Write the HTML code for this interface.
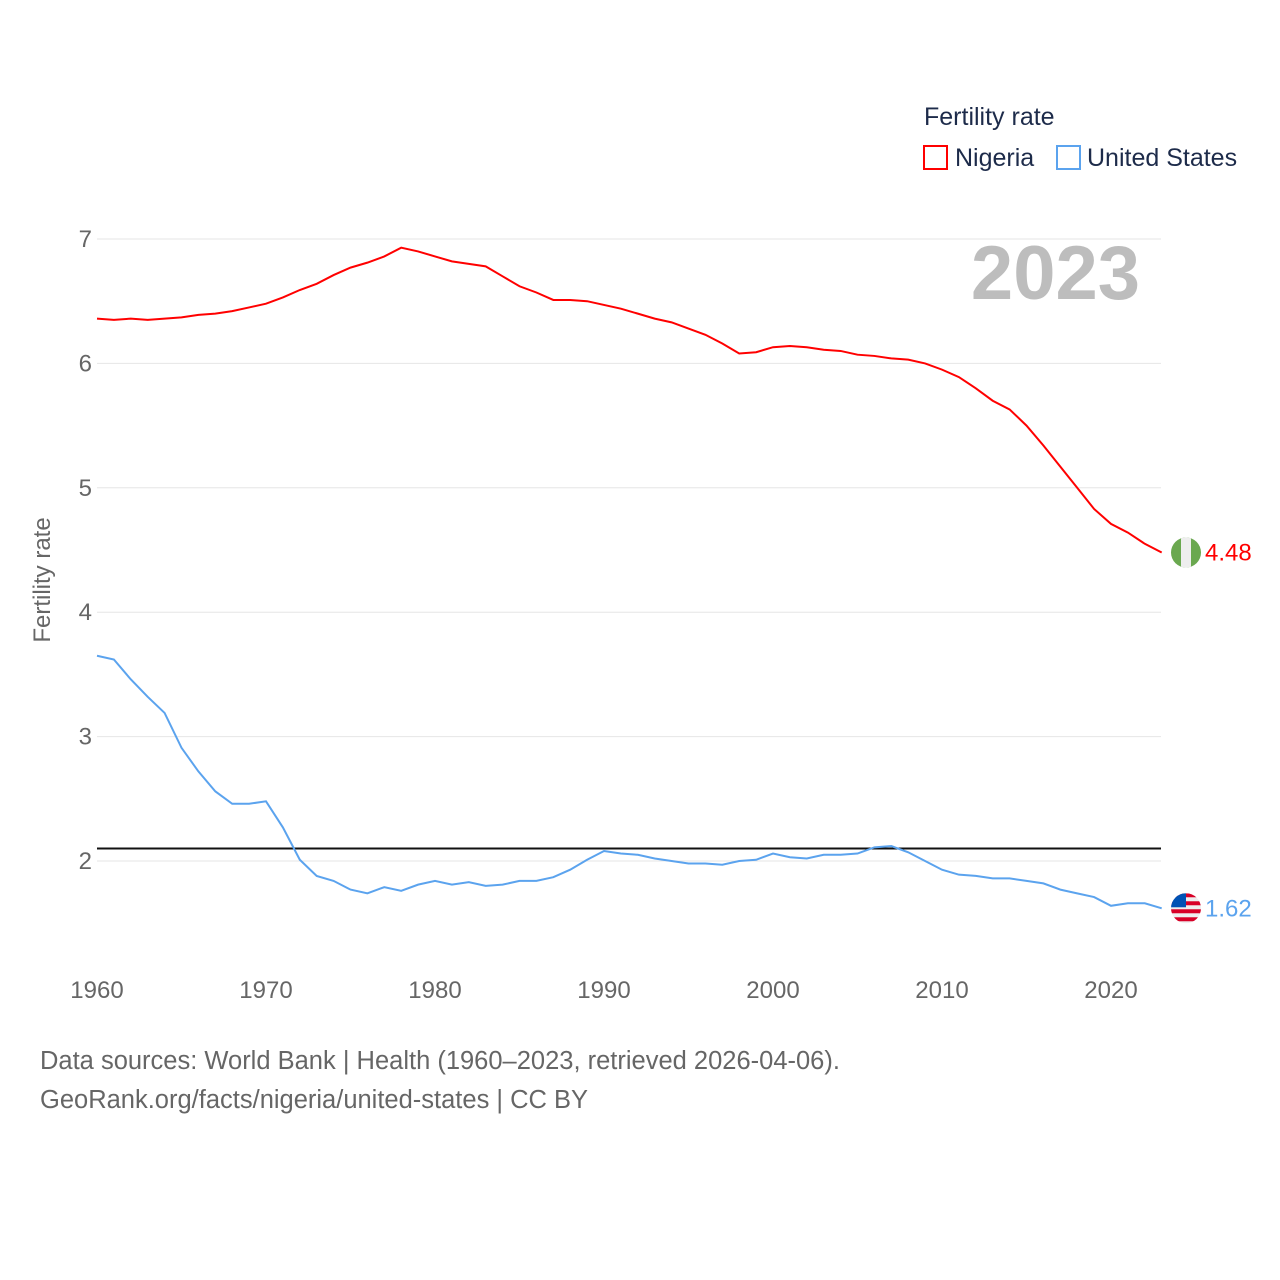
<!DOCTYPE html>
<html><head><meta charset="utf-8"><style>
body{margin:0;background:#fff;}
svg{display:block;font-family:"Liberation Sans",sans-serif;}
</style></head><body>
<svg id="chart" width="1280" height="1280">
<text x="924" y="125" font-size="25" fill="#1d2b4a">Fertility rate</text>
<g><rect x="924" y="146" width="23" height="23" fill="none" stroke="#ff0000" stroke-width="2"/><text x="955" y="166" font-size="25" fill="#1d2b4a">Nigeria</text></g>
<g><rect x="1057" y="146" width="23" height="23" fill="none" stroke="#5ba3ee" stroke-width="2"/><text x="1087" y="166" font-size="25" fill="#1d2b4a">United States</text></g>
<text x="1140" y="299" font-size="76" font-weight="bold" fill="#bdbdbd" text-anchor="end">2023</text>
<text transform="translate(50,580) rotate(-90)" font-size="24" fill="#666" text-anchor="middle">Fertility rate</text>
<g id="grid"></g><g id="series"></g>
<text x="40" y="1069" font-size="25.5" fill="#666">Data sources: World Bank | Health (1960–2023, retrieved 2026-04-06).</text>
<text x="40" y="1108" font-size="25.5" fill="#666">GeoRank.org/facts/nigeria/united-states | CC BY</text>
</svg>
<script>
const years=[];for(let y=1960;y<=2023;y++)years.push(y);
const nigeria=[6.36,6.35,6.36,6.35,6.36,6.37,6.39,6.40,6.42,6.45,6.48,6.53,6.59,6.64,6.71,6.77,6.81,6.86,6.93,6.90,6.86,6.82,6.80,6.78,6.70,6.62,6.57,6.51,6.51,6.50,6.47,6.44,6.40,6.36,6.33,6.28,6.23,6.16,6.08,6.09,6.13,6.14,6.13,6.11,6.10,6.07,6.06,6.04,6.03,6.00,5.95,5.89,5.80,5.70,5.63,5.50,5.34,5.17,5.00,4.83,4.71,4.64,4.55,4.48];
const usa=[3.65,3.62,3.46,3.32,3.19,2.91,2.72,2.56,2.46,2.46,2.48,2.27,2.01,1.88,1.84,1.77,1.74,1.79,1.76,1.81,1.84,1.81,1.83,1.80,1.81,1.84,1.84,1.87,1.93,2.01,2.08,2.06,2.05,2.02,2.00,1.98,1.98,1.97,2.00,2.01,2.06,2.03,2.02,2.05,2.05,2.06,2.11,2.12,2.07,2.00,1.93,1.89,1.88,1.86,1.86,1.84,1.82,1.77,1.74,1.71,1.64,1.66,1.66,1.62];
const yTicks=[2,3,4,5,6,7];
const xTicks=[1960,1970,1980,1990,2000,2010,2020];
const replacement=2.1;
const X=y=>97+(y-1960)*(1111-97)/60;
const Y=v=>861-(v-2)*124.4;
const NS="http://www.w3.org/2000/svg";
const grid=document.getElementById('grid'),ser=document.getElementById('series');
function mk(p,tag,a){const e=document.createElementNS(NS,tag);for(const k in a)e.setAttribute(k,a[k]);p.appendChild(e);return e;}
yTicks.forEach(t=>{
 const l=mk(grid,'line',{x1:97,x2:1161,y1:Y(t),y2:Y(t),stroke:'#e6e6e6','stroke-width':1});
 
 
 const tx=mk(grid,'text',{x:92,y:Y(t)+8,'font-size':24,fill:'#666','text-anchor':'end'});tx.textContent=t;
 
 
});
xTicks.forEach(t=>{
 const tx=mk(grid,'text',{x:X(t),y:998,'font-size':24,fill:'#666','text-anchor':'middle'});tx.textContent=t;
 
 
});
const ref=mk(grid,'line',{x1:97,x2:1161,y1:Y(replacement),y2:Y(replacement),stroke:'#111','stroke-width':2});


function line(data,col,name){
 const p=mk(ser,'polyline',{points:data.map((v,i)=>X(years[i])+','+Y(v)).join(' '),fill:'none',stroke:col,'stroke-width':2});
 
 
}
line(nigeria,'#ff0000','nigeria-line');
line(usa,'#5ba3ee','united-states-line');
const ln=nigeria[nigeria.length-1],lu=usa[usa.length-1];
const fx=1186;
const gN=mk(ser,'g',{});


mk(gN,'clipPath',{id:'cn'});mk(gN.firstChild,'circle',{cx:fx,cy:Y(ln),r:15});
mk(gN,'rect',{x:fx-15,y:Y(ln)-15,width:30,height:30,fill:'#6aa84f','clip-path':'url(#cn)'});
mk(gN,'rect',{x:fx-5,y:Y(ln)-15,width:10,height:30,fill:'#eeeeee','clip-path':'url(#cn)'});
const tn=mk(ser,'text',{x:1205,y:Y(ln)+8,'font-size':24,fill:'#ff0000'});tn.textContent=ln.toFixed(2);


const gU=mk(ser,'g',{});


mk(gU,'clipPath',{id:'cu'});mk(gU.firstChild,'circle',{cx:fx,cy:Y(lu),r:15});
mk(gU,'rect',{x:fx-15,y:Y(lu)-15,width:30,height:30,fill:'#eeeeee','clip-path':'url(#cu)'});
for(let k=0;k<4;k++)mk(gU,'rect',{x:fx-15,y:Y(lu)-15+k*8,width:30,height:4,fill:'#d80027','clip-path':'url(#cu)'});
mk(gU,'rect',{x:fx-15,y:Y(lu)-15,width:15,height:14,fill:'#0052b4','clip-path':'url(#cu)'});
const tu=mk(ser,'text',{x:1205,y:Y(lu)+8,'font-size':24,fill:'#5ba3ee'});tu.textContent=lu.toFixed(2);


</script>
</body></html>
